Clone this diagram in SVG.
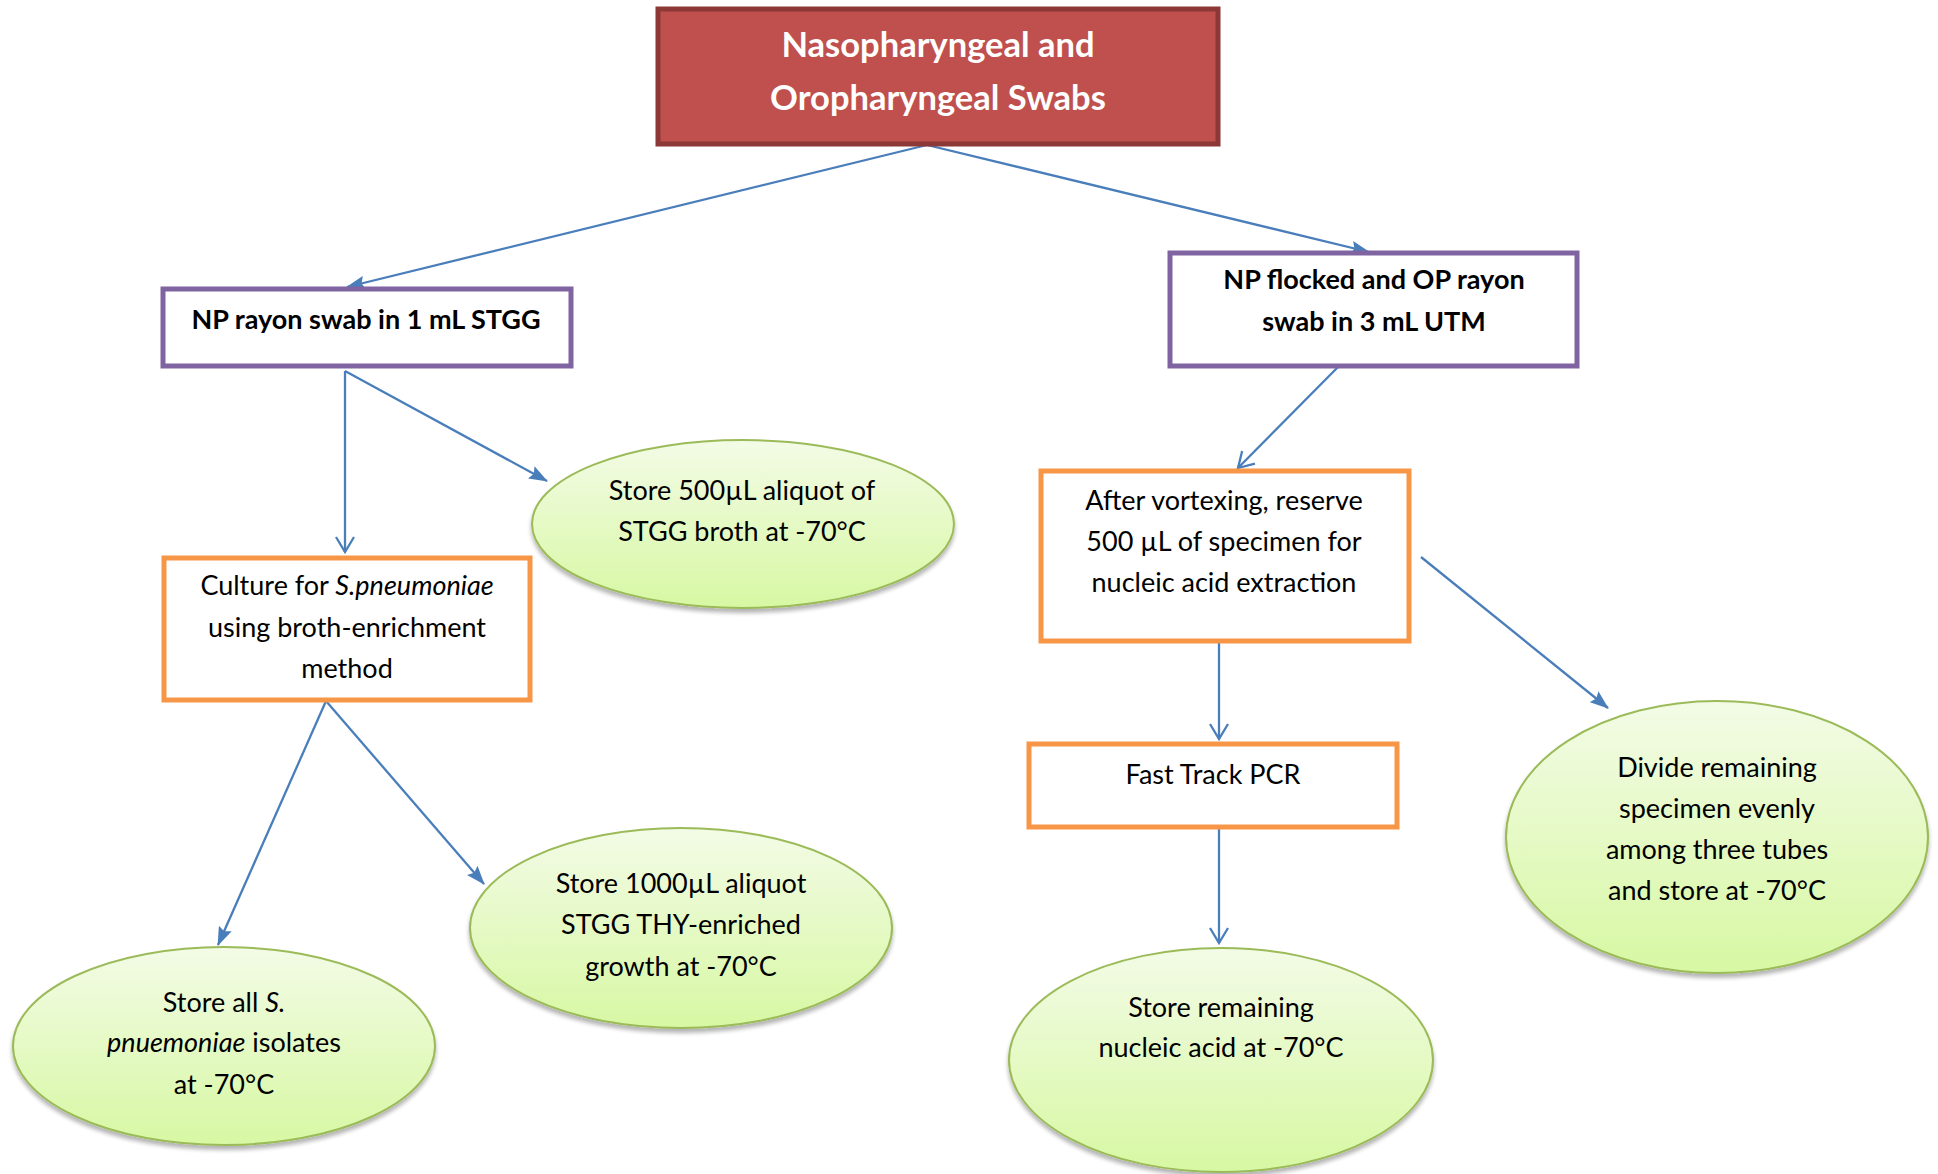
<svg xmlns="http://www.w3.org/2000/svg" width="1938" height="1174" viewBox="0 0 1938 1174">
<defs>
<style>
.t{font-family:Lato,"Open Sans","DejaVu Sans",sans-serif;font-size:27px;fill:#000;text-anchor:middle}
.b{font-weight:bold}
.title{font-family:Lato,"Open Sans","DejaVu Sans",sans-serif;font-size:34.5px;font-weight:bold;fill:#fff;text-anchor:middle}
.purple{fill:#fff;stroke:#8064a2;stroke-width:5}
.orange{fill:#fff;stroke:#f79646;stroke-width:5}
.green{fill:url(#gg);stroke:#9bbb59;stroke-width:2}
.c{fill:none;stroke:#4a7ebb;stroke-width:2.3}
.f{marker-end:url(#af)}
.o{marker-end:url(#ao)}
</style>
<linearGradient id="gg" x1="0" y1="0" x2="0" y2="1">
<stop offset="0" stop-color="#f3fbe6"/>
<stop offset="1" stop-color="#d7f8a3"/>
</linearGradient>
<filter id="sh" x="-10%" y="-10%" width="120%" height="130%">
<feGaussianBlur in="SourceAlpha" stdDeviation="2"/>
<feOffset dx="0" dy="4"/>
<feComponentTransfer><feFuncA type="linear" slope="0.3"/></feComponentTransfer>
<feMerge><feMergeNode/><feMergeNode in="SourceGraphic"/></feMerge>
</filter>
<marker id="af" markerUnits="userSpaceOnUse" markerWidth="19" markerHeight="14" refX="18" refY="7" orient="auto">
<path d="M0,0 L19,7 L0,14 L3,7 z" fill="#4a7ebb"/>
</marker>
<marker id="ao" markerUnits="userSpaceOnUse" markerWidth="18" markerHeight="20" refX="16" refY="10" orient="auto">
<path d="M1,1 L16,10 L1,19" fill="none" stroke="#4a7ebb" stroke-width="2.3"/>
</marker>
</defs>
<rect width="1938" height="1174" fill="#fff"/>

<g id="connectors">
<line class="c f" x1="927" y1="145" x2="347" y2="287"/>
<line class="c f" x1="927" y1="145" x2="1369" y2="252"/>
<line class="c o" x1="345" y1="371" x2="345" y2="552"/>
<line class="c f" x1="345" y1="371" x2="547" y2="481"/>
<line class="c f" x1="326" y1="701" x2="218" y2="945"/>
<line class="c f" x1="326" y1="701" x2="484" y2="884"/>
<line class="c o" x1="1338" y1="367" x2="1238" y2="468"/>
<line class="c o" x1="1219" y1="642" x2="1219" y2="739"/>
<line class="c f" x1="1421" y1="557" x2="1608" y2="708"/>
<line class="c o" x1="1219" y1="828" x2="1219" y2="943"/>
</g>

<g id="title">
<rect x="658" y="9" width="560" height="135" fill="#c0504d" stroke="#8c3836" stroke-width="5"/>
<text class="title" x="938" y="57">Nasopharyngeal and</text>
<text class="title" x="938" y="110">Oropharyngeal Swabs</text>
</g>

<g id="np-rayon">
<rect class="purple" x="163" y="289" width="408" height="77"/>
<text class="t b" x="366" y="329">NP rayon swab in 1 mL STGG</text>
</g>

<g id="np-flocked">
<rect class="purple" x="1170" y="253" width="407" height="113"/>
<text class="t b" x="1374" y="289">NP flocked and OP rayon</text>
<text class="t b" x="1374" y="331">swab in 3 mL UTM</text>
</g>

<g id="store-500">
<ellipse class="green" cx="743" cy="524" rx="211" ry="84" filter="url(#sh)"/>
<text class="t" x="742" y="500">Store 500µL aliquot of</text>
<text class="t" x="742" y="541">STGG broth at -70°C</text>
</g>

<g id="culture">
<rect class="orange" x="164" y="558" width="366" height="142"/>
<text class="t" x="347" y="595">Culture for <tspan font-style="italic">S.pneumoniae</tspan></text>
<text class="t" x="347" y="637">using broth-enrichment</text>
<text class="t" x="347" y="678">method</text>
</g>

<g id="store-isolates">
<ellipse class="green" cx="224" cy="1046" rx="211" ry="99" filter="url(#sh)"/>
<text class="t" x="224" y="1012">Store all <tspan font-style="italic">S.</tspan></text>
<text class="t" x="224" y="1052"><tspan font-style="italic">pnuemoniae</tspan> isolates</text>
<text class="t" x="224" y="1094">at -70°C</text>
</g>

<g id="store-1000">
<ellipse class="green" cx="681" cy="928" rx="211" ry="100" filter="url(#sh)"/>
<text class="t" x="681" y="893">Store 1000µL aliquot</text>
<text class="t" x="681" y="934">STGG THY-enriched</text>
<text class="t" x="681" y="976">growth at -70°C</text>
</g>

<g id="vortex">
<rect class="orange" x="1041" y="471" width="368" height="170"/>
<text class="t" x="1224" y="510">After vortexing, reserve</text>
<text class="t" x="1224" y="551">500 µL of specimen for</text>
<text class="t" x="1224" y="592">nucleic acid extraction</text>
</g>

<g id="pcr">
<rect class="orange" x="1029" y="744" width="368" height="83"/>
<text class="t" x="1213" y="784">Fast Track PCR</text>
</g>

<g id="store-nucleic">
<ellipse class="green" cx="1221" cy="1060" rx="212" ry="112" filter="url(#sh)"/>
<text class="t" x="1221" y="1017">Store remaining</text>
<text class="t" x="1221" y="1057">nucleic acid at -70°C</text>
</g>

<g id="divide">
<ellipse class="green" cx="1717" cy="837" rx="211" ry="136" filter="url(#sh)"/>
<text class="t" x="1717" y="777">Divide remaining</text>
<text class="t" x="1717" y="818">specimen evenly</text>
<text class="t" x="1717" y="859">among three tubes</text>
<text class="t" x="1717" y="900">and store at -70°C</text>
</g>
</svg>
